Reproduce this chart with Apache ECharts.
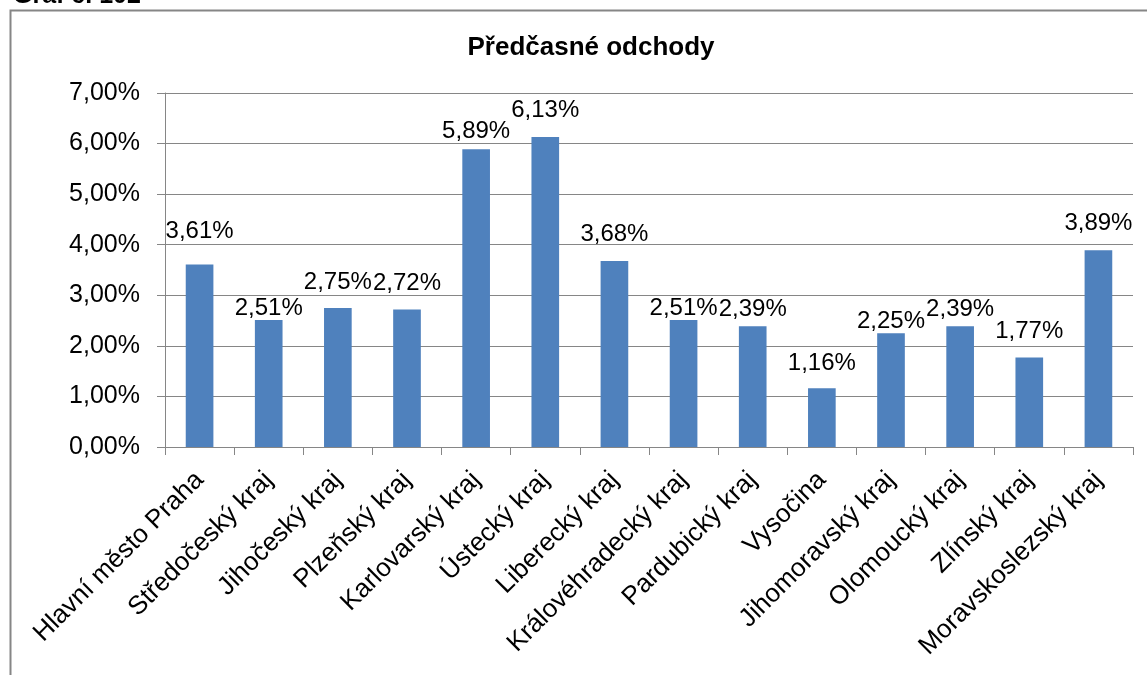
<!DOCTYPE html>
<html>
<head>
<meta charset="utf-8">
<script src="https://cdn.jsdelivr.net/npm/echarts@6/dist/echarts.min.js"></script>
<style>
  html, body { margin: 0; padding: 0; background: #ffffff; }
  #chart { width: 1147px; height: 675px; }
</style>
</head>
<body>
<div id="chart"></div>
<script>
// Regions of the Czech Republic
const regions = [
  'Hlavní město Praha', 'Středočeský kraj', 'Jihočeský kraj', 'Plzeňský kraj',
  'Karlovarský kraj', 'Ústecký kraj', 'Liberecký kraj', 'Královéhradecký kraj',
  'Pardubický kraj', 'Vysočina', 'Jihomoravský kraj', 'Olomoucký kraj',
  'Zlínský kraj', 'Moravskoslezský kraj'
];

// Early school leavers, percent
const earlyLeavers = [3.61, 2.51, 2.75, 2.72, 5.89, 6.13, 3.68, 2.51, 2.39, 1.16, 2.25, 2.39, 1.77, 3.89];

// Y axis range and step, percent
const yMin = 0;
const yMax = 7;
const yStep = 1;

// Per-bar gap between bar top and its value label (px)
const labelGap = [21, 0, 14, 14, 6, 15, 15, 0, 5, 13, 0, 5, 14, 15];

const FONT = "'Liberation Sans', Arial, sans-serif";
const GRID_COLOR = '#868686';

const fmtPct = v => v.toFixed(2).replace('.', ',') + '%';

const chart = echarts.init(document.getElementById('chart'), null, { renderer: 'canvas' });

chart.setOption({
  backgroundColor: '#ffffff',
  animation: false,
  title: {
    text: 'Předčasné odchody',
    left: 586,
    top: 30,
    textAlign: 'center',
    textStyle: { fontFamily: FONT, fontSize: 26, fontWeight: 'bold', color: '#000' }
  },
  graphic: [
    {
      type: 'text',
      left: 13,
      top: -16,
      style: { text: 'Graf č. 102', fontFamily: FONT, fontSize: 25, fontWeight: 'bold', fill: '#000' }
    },
    {
      type: 'polyline',
      shape: { points: [[10.5, 675], [10.5, 10.5], [1147, 10.5]] },
      style: { stroke: GRID_COLOR, lineWidth: 2, fill: null }
    }
  ],
  grid: { left: 165, right: 14, top: 93, bottom: 228, containLabel: false },
  xAxis: {
    type: 'category',
    data: regions,
    axisLine: { show: true, lineStyle: { color: GRID_COLOR, width: 1 } },
    axisTick: { show: true, length: 8, alignWithLabel: false, lineStyle: { color: GRID_COLOR } },
    axisLabel: {
      interval: 0,
      rotate: 45,
      margin: 29,
      fontFamily: FONT,
      fontSize: 26,
      color: '#000'
    }
  },
  yAxis: {
    type: 'value',
    min: yMin,
    max: yMax,
    interval: yStep,
    axisLine: { show: true, lineStyle: { color: GRID_COLOR, width: 1 } },
    axisTick: { show: true, length: 8, lineStyle: { color: GRID_COLOR } },
    splitLine: { show: true, lineStyle: { color: GRID_COLOR, width: 1 } },
    axisLabel: {
      margin: 25,
      fontFamily: FONT,
      fontSize: 25,
      color: '#000',
      formatter: v => fmtPct(v)
    }
  },
  series: [{
    type: 'bar',
    barWidth: '40%',
    itemStyle: { color: '#4F81BD' },
    data: earlyLeavers.map((v, i) => ({
      value: v,
      label: { distance: labelGap[i] }
    })),
    label: {
      show: true,
      position: 'top',
      fontFamily: FONT,
      fontSize: 24,
      color: '#000',
      formatter: p => fmtPct(p.value)
    }
  }]
});
</script>
</body>
</html>
